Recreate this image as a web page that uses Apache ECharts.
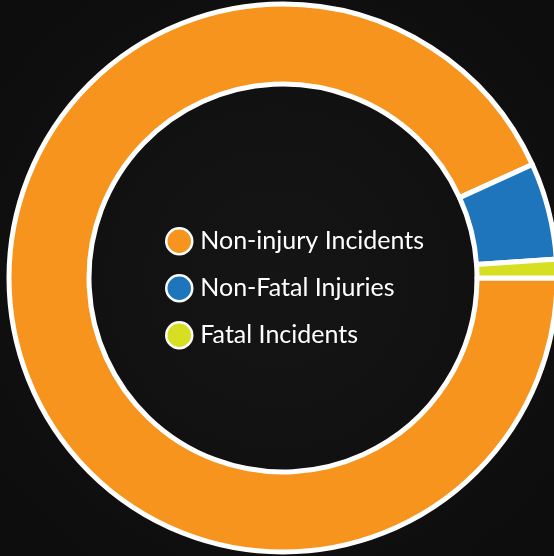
<!DOCTYPE html>
<html>
<head>
<meta charset="utf-8">
<script src="https://cdn.jsdelivr.net/npm/echarts@6/dist/echarts.min.js"></script>
<style>
  html, body { margin: 0; padding: 0; background: #0e0e0f; }
  #chart { width: 554px; height: 556px; }
</style>
</head>
<body>
<div id="chart"></div>
<script>
const categories = ['Non-injury Incidents', 'Non-Fatal Injuries', 'Fatal Incidents']
const values = [93.2, 5.7, 1.1]
const colors = ['#f7941d', '#1f75bc', '#d7df23']

const chart = echarts.init(document.getElementById('chart'), null, { renderer: 'canvas' })

chart.setOption({
  backgroundColor: {
    type: 'radial', x: 0.5, y: 0.5, r: 0.75,
    colorStops: [
      { offset: 0, color: '#151516' },
      { offset: 1, color: '#0c0c0d' },
    ],
  },
  animation: false,
  legend: {
    orient: 'vertical',
    left: 160,
    top: 222,
    padding: 5,
    itemWidth: 26,
    itemHeight: 26,
    itemGap: 18.5,
    icon: 'circle',
    itemStyle: { borderColor: '#ffffff', borderWidth: 2.5 },
    textStyle: { color: '#ffffff', fontSize: 25, lineHeight: 26, fontFamily: 'Lato', padding: [0, 0, 0, 3] },
    data: categories,
  },
  series: [{
    type: 'pie',
    center: [283, 278],
    radius: [194, 274],
    startAngle: 0,
    clockwise: true,
    label: { show: false },
    labelLine: { show: false },
    emphasis: { disabled: true },
    itemStyle: { borderColor: '#ffffff', borderWidth: 5 },
    data: categories.map((name, i) => ({
      name,
      value: values[i],
      itemStyle: { color: colors[i] },
    })),
  }],
})
</script>
</body>
</html>
